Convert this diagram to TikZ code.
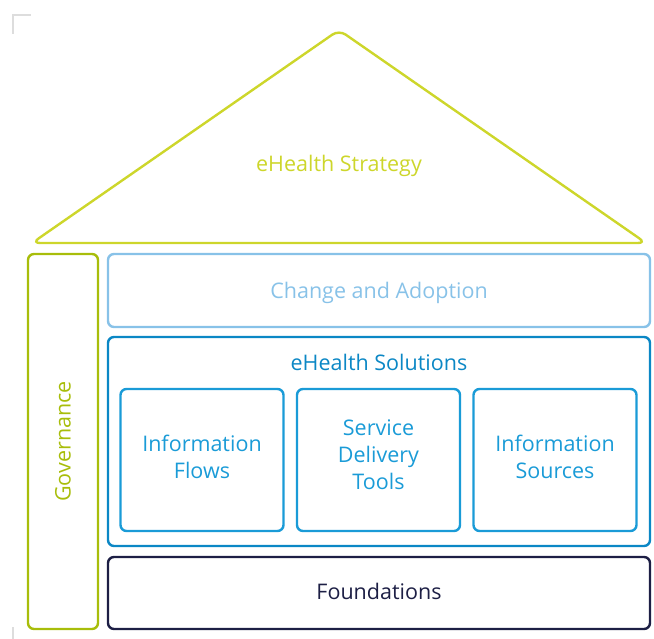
\documentclass[tikz,border=0pt]{standalone}
\usepackage{fontspec}
\setmainfont{Open Sans}
\definecolor{strategie}{HTML}{CDD62B}
\definecolor{gouv}{HTML}{A8BD0A}
\definecolor{adoption}{HTML}{88C2E8}
\definecolor{solutions}{HTML}{0B87C5}
\definecolor{outil}{HTML}{1A9BD7}
\definecolor{fondation}{HTML}{1D1F45}
\definecolor{repere}{HTML}{DDDDDD}
\begin{document}
\begin{tikzpicture}[x=1pt,y=-1pt]
\tikzstyle{bord}=[line width=2.4pt,rounded corners=6pt]
\tikzset{bloc/.style={draw,bord,rectangle,inner sep=0pt,align=center,
  font=\fontsize{21.5}{27}\selectfont,text=#1,draw=#1},
bloc/.default={black},
titre/.style={font=\fontsize{21.5}{27}\selectfont,text=#1}}
\useasboundingbox (0,0) rectangle (654,639);
% reperes de coupe
\draw[repere,line width=2pt] (13,34) -- (13,15) -- (31,15);
\draw[repere,line width=2pt] (13,627) -- (13,639);
% toit
\coordinate (T) at (339,30);
\coordinate (TG) at (32,243);
\coordinate (TD) at (646,243);
\draw[strategie,line width=2.4pt,rounded corners=8pt] (TG) -- (T) -- (TD) -- cycle;
\node[titre=strategie] (S) at (339,166) {eHealth Strategy};
% colonne
\node[bloc=gouv,minimum width=70pt,minimum height=375pt] (G) at (63,441.5) {};
\node[rotate=90,titre=gouv] at (G.center) {Governance};
% etages
\node[bloc=adoption,minimum width=542pt,minimum height=73pt] (C) at (379,290.5) {};
\node[titre=adoption] (C1) at (379,293) {Change and Adoption};
\node[bloc=solutions,minimum width=542pt,minimum height=209pt] (E) at (379,441.5) {};
\node[titre=solutions] (E1) at (379,362) {eHealth Solutions};
\node[bloc=outil,minimum width=163pt,minimum height=142pt] (E2) at (202,460) {};
\node[bloc=outil,minimum width=163pt,minimum height=142pt] (E3) at (378.5,460) {};
\node[bloc=outil,minimum width=163pt,minimum height=142pt] (E4) at (555,460) {};
\node[titre=outil,align=center] at (202,457) {Information\\Flows};
\node[titre=outil,align=center] at (378.5,455) {Service\\Delivery\\Tools};
\node[titre=outil,align=center] at (555,457) {Information\\Sources};
\node[bloc=fondation,minimum width=542pt,minimum height=72pt] (F) at (379,593) {};
\node[titre=fondation] (F1) at (379,591) {Foundations};
\end{tikzpicture}
\end{document}
